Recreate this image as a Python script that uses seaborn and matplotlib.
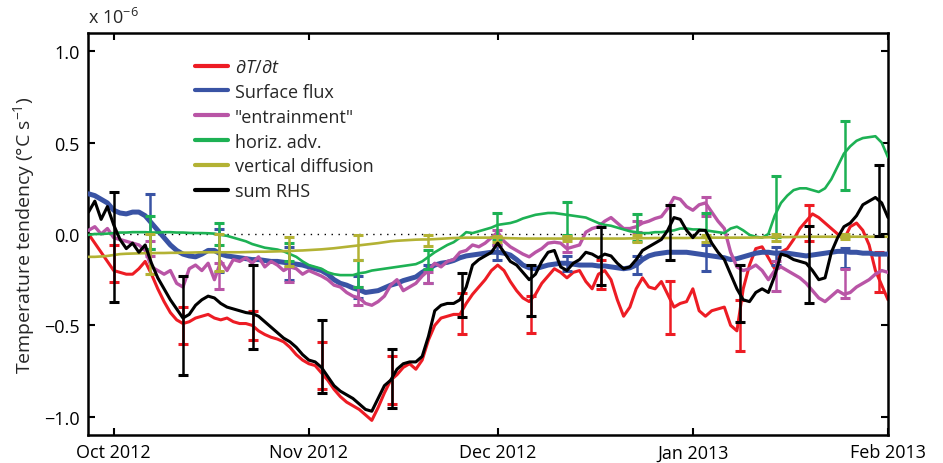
import pandas as pd
import matplotlib
matplotlib.use("Agg")
import matplotlib.pyplot as plt
import matplotlib.dates as mdates
from matplotlib.lines import Line2D
import seaborn as sns

# ---- daily series, 27 Sep 2012 .. 1 Feb 2013 (units of 1e-6 degC/s) ----
days = pd.date_range("2012-09-27", periods=128, freq="D")

dTdt = [0.0, -0.05, -0.1, -0.15,
        -0.2, -0.21, -0.22, -0.22, -0.19, -0.15, -0.22, -0.3, -0.37, -0.43,
        -0.47, -0.49, -0.48, -0.46, -0.45, -0.44, -0.46, -0.47, -0.46, -0.48,
        -0.49, -0.49, -0.5, -0.53, -0.55, -0.565, -0.575, -0.59, -0.62, -0.66,
        -0.69, -0.71, -0.72, -0.76, -0.8, -0.85, -0.89, -0.92, -0.94, -0.96,
        -0.99, -1.02, -0.95, -0.87, -0.8, -0.77, -0.73, -0.71, -0.74, -0.69,
        -0.58, -0.5, -0.46, -0.45, -0.44, -0.44, -0.38, -0.33, -0.29, -0.25,
        -0.2, -0.17, -0.2, -0.26, -0.31, -0.35, -0.37, -0.33, -0.27, -0.23,
        -0.19, -0.21, -0.24, -0.21, -0.2, -0.26, -0.3, -0.22, -0.2, -0.25,
        -0.36, -0.45, -0.4, -0.3, -0.24, -0.29, -0.3, -0.26, -0.33, -0.4,
        -0.38, -0.37, -0.3, -0.42, -0.45, -0.42, -0.41, -0.4, -0.5, -0.53,
        -0.3, -0.17, -0.08, -0.07, -0.13, -0.19, -0.1, -0.08, -0.03, 0.03,
        0.07, 0.11, 0.09, 0.06, 0.03, 0.0, -0.03, 0.04, 0.06, 0.02,
        -0.06, -0.2, -0.28, -0.36]

surface_flux = [0.22, 0.21, 0.19, 0.17,
                0.13, 0.115, 0.11, 0.12, 0.12, 0.1, 0.06, 0.02, -0.02, -0.06,
                -0.09, -0.11, -0.12, -0.125, -0.11, -0.09, -0.09, -0.11, -0.12, -0.125,
                -0.13, -0.135, -0.14, -0.14, -0.145, -0.15, -0.15, -0.155, -0.16, -0.165,
                -0.17, -0.18, -0.19, -0.2, -0.22, -0.25, -0.27, -0.28, -0.295, -0.305,
                -0.32, -0.315, -0.31, -0.295, -0.28, -0.27, -0.255, -0.245, -0.235, -0.21,
                -0.19, -0.17, -0.16, -0.155, -0.145, -0.13, -0.12, -0.115, -0.11, -0.105,
                -0.1, -0.1, -0.105, -0.115, -0.14, -0.17, -0.185, -0.19, -0.18, -0.17,
                -0.165, -0.16, -0.16, -0.165, -0.17, -0.17, -0.17, -0.175, -0.175, -0.18,
                -0.185, -0.19, -0.185, -0.17, -0.14, -0.12, -0.11, -0.105, -0.1, -0.1,
                -0.1, -0.1, -0.105, -0.11, -0.115, -0.12, -0.125, -0.13, -0.14, -0.135,
                -0.125, -0.115, -0.105, -0.1, -0.1, -0.105, -0.105, -0.105, -0.11, -0.115,
                -0.12, -0.115, -0.11, -0.105, -0.1, -0.095, -0.095, -0.1, -0.1, -0.105,
                -0.105, -0.11, -0.11, -0.11]

entrainment = [0.02, 0.04, 0.0, 0.03,
               -0.02, -0.03, -0.04, -0.05, -0.06, -0.09, -0.18, -0.2, -0.22, -0.2,
               -0.27, -0.29, -0.19, -0.17, -0.2, -0.16, -0.25, -0.15, -0.2, -0.14,
               -0.15, -0.13, -0.16, -0.125, -0.18, -0.15, -0.17, -0.2, -0.18, -0.19,
               -0.22, -0.2, -0.215, -0.23, -0.25, -0.28, -0.29, -0.32, -0.34, -0.35,
               -0.38, -0.39, -0.37, -0.34, -0.28, -0.25, -0.31, -0.29, -0.27, -0.23,
               -0.2, -0.16, -0.18, -0.15, -0.14, -0.1, -0.09, -0.06, -0.07, -0.05,
               -0.02, 0.01, -0.04, -0.07, -0.09, -0.11, -0.125, -0.1, -0.08, -0.05,
               -0.045, -0.05, -0.08, -0.07, -0.06, 0.01, 0.03, 0.04, 0.07, 0.09,
               0.06, 0.03, 0.03, 0.04, 0.06, 0.07, 0.085, 0.095, 0.14, 0.2,
               0.19, 0.15, 0.13, 0.16, 0.17, 0.12, 0.07, 0.03, -0.1, -0.18,
               -0.2, -0.19, -0.17, -0.2, -0.25, -0.2, -0.18, -0.2, -0.22, -0.24,
               -0.27, -0.31, -0.35, -0.37, -0.34, -0.31, -0.33, -0.32, -0.29, -0.27,
               -0.25, -0.22, -0.2, -0.21]

horiz_adv = [-0.005, 0.0, 0.0, 0.002,
             0.005, 0.008, 0.008, 0.01, 0.01, 0.01, 0.008, 0.008, 0.01, 0.01,
             0.008, 0.008, 0.006, 0.005, 0.005, 0.004, 0.002, -0.005, -0.01, -0.02,
             -0.03, -0.04, -0.055, -0.065, -0.075, -0.08, -0.085, -0.095, -0.11, -0.125,
             -0.15, -0.17, -0.18, -0.19, -0.21, -0.22, -0.225, -0.225, -0.225, -0.215,
             -0.21, -0.2, -0.195, -0.19, -0.185, -0.18, -0.175, -0.17, -0.165, -0.15,
             -0.125, -0.1, -0.08, -0.06, -0.045, -0.02, 0.01, 0.005, 0.015, 0.025,
             0.035, 0.05, 0.055, 0.06, 0.07, 0.085, 0.095, 0.105, 0.11, 0.115,
             0.115, 0.11, 0.105, 0.1, 0.095, 0.09, 0.075, 0.06, 0.05, 0.045,
             0.035, 0.025, 0.015, 0.01, 0.005, 0.005, 0.01, 0.01, 0.015, 0.02,
             0.03, 0.03, 0.025, 0.025, 0.02, 0.015, 0.01, 0.005, 0.03, 0.04,
             0.02, -0.005, -0.015, -0.02, 0.0, 0.1, 0.17, 0.21, 0.24, 0.25,
             0.25, 0.24, 0.23, 0.25, 0.3, 0.37, 0.44, 0.48, 0.51, 0.525,
             0.53, 0.535, 0.5, 0.42]

vert_diff = [-0.125, -0.125, -0.123, -0.12,
             -0.115, -0.11, -0.108, -0.107, -0.106, -0.105, -0.105, -0.104, -0.104, -0.103,
             -0.103, -0.102, -0.102, -0.101, -0.1, -0.1, -0.1, -0.1, -0.1, -0.1,
             -0.1, -0.099, -0.098, -0.097, -0.097, -0.096, -0.095, -0.094, -0.093, -0.091,
             -0.09, -0.088, -0.086, -0.084, -0.081, -0.078, -0.074, -0.07, -0.066, -0.062,
             -0.058, -0.054, -0.05, -0.045, -0.04, -0.037, -0.035, -0.033, -0.031, -0.03,
             -0.03, -0.028, -0.026, -0.024, -0.022, -0.021, -0.02, -0.02, -0.02, -0.02,
             -0.02, -0.021, -0.022, -0.023, -0.024, -0.025, -0.025, -0.025, -0.025, -0.025,
             -0.025, -0.025, -0.025, -0.025, -0.025, -0.025, -0.025, -0.025, -0.025, -0.025,
             -0.025, -0.025, -0.024, -0.024, -0.023, -0.023, -0.022, -0.022, -0.022, -0.022,
             -0.022, -0.022, -0.021, -0.021, -0.021, -0.02, -0.02, -0.02, -0.02, -0.02,
             -0.02, -0.02, -0.019, -0.019, -0.018, -0.018, -0.017, -0.017, -0.016, -0.016,
             -0.015, -0.015, -0.015, -0.015, -0.015, -0.015, -0.015, -0.015, -0.015, -0.015,
             -0.015, -0.015, -0.015, -0.015]

sum_rhs = [0.12, 0.18, 0.08, 0.15,
           0.05, -0.03, -0.08, -0.05, -0.1, -0.06, -0.16, -0.24, -0.3, -0.36,
           -0.41, -0.46, -0.44, -0.39, -0.36, -0.34, -0.35, -0.38, -0.4, -0.41,
           -0.42, -0.43, -0.435, -0.45, -0.48, -0.51, -0.54, -0.57, -0.59, -0.62,
           -0.66, -0.69, -0.7, -0.73, -0.78, -0.83, -0.86, -0.88, -0.9, -0.93,
           -0.96, -0.97, -0.9, -0.83, -0.8, -0.74, -0.71, -0.7, -0.7, -0.67,
           -0.56, -0.42, -0.39, -0.38, -0.38, -0.36, -0.29, -0.17, -0.14, -0.12,
           -0.1, -0.05, -0.1, -0.15, -0.17, -0.21, -0.25, -0.22, -0.15, -0.1,
           -0.09, -0.18, -0.2, -0.16, -0.14, -0.1, -0.11, -0.13, -0.11, -0.12,
           -0.16, -0.19, -0.18, -0.14, -0.09, -0.07, -0.05, -0.03, 0.02, 0.09,
           0.08, 0.02, -0.02, 0.02, 0.02, -0.05, -0.1, -0.14, -0.22, -0.3,
           -0.36, -0.37, -0.32, -0.3, -0.32, -0.23, -0.11, -0.12, -0.14, -0.15,
           -0.16, -0.2, -0.25, -0.24, -0.1, -0.02, 0.04, 0.06, 0.1, 0.16,
           0.18, 0.2, 0.17, 0.09]

# ---- uncertainty estimates: days after 1 Oct 2012, centre, half-width ----
err_days_a = [0.0, 11.05, 22.1, 33.15, 44.2, 55.25, 66.3, 77.35, 88.4, 99.45, 110.5, 121.55]
err_days_b = [5.7, 16.75, 27.8, 38.85, 49.9, 60.95, 72.0, 83.05, 94.1, 105.15, 116.2]

dTdt_mid = [-0.16, -0.5, -0.5, -0.72, -0.8, -0.435, -0.44, -0.22, -0.4, -0.5, 0.06, -0.21]
dTdt_err = [0.1, 0.1, 0.08, 0.13, 0.13, 0.11, 0.1, 0.08, 0.145, 0.14, 0.1, 0.11]
sum_mid = [-0.07, -0.5, -0.40, -0.67, -0.79, -0.335, -0.31, -0.12, 0.01, -0.325, -0.165, 0.185]
sum_err = [0.3, 0.27, 0.23, 0.2, 0.16, 0.12, 0.14, 0.16, 0.15, 0.155, 0.21, 0.195]
flux_mid = [0.07, -0.09, -0.16, -0.29, -0.22, -0.1, -0.16, -0.17, -0.13, -0.12, -0.13]
flux_err = [0.15, 0.12, 0.09, 0.06, 0.05, 0.04, 0.04, 0.05, 0.07, 0.05, 0.055]
entr_mid = [-0.08, -0.23, -0.22, -0.34, -0.24, -0.02, -0.06, 0.04, 0.15, -0.23, -0.27]
entr_err = [0.04, 0.07, 0.04, 0.05, 0.03, 0.04, 0.04, 0.03, 0.05, 0.08, 0.08]
adv_mid = [0.01, 0.0, -0.1, -0.215, -0.14, 0.045, 0.085, 0.035, 0.05, 0.15, 0.43]
adv_err = [0.09, 0.06, 0.05, 0.075, 0.05, 0.07, 0.09, 0.075, 0.065, 0.165, 0.19]
vdiff_mid = [-0.11, -0.1, -0.095, -0.075, -0.035, -0.027, -0.025, -0.025, -0.025, -0.02, -0.015]
vdiff_err = [0.11, 0.1, 0.08, 0.07, 0.03, 0.017, 0.015, 0.02, 0.02, 0.02, 0.015]

labels = [r"$\partial T/\partial t$", "Surface flux", "\"entrainment\"",
          "horiz. adv.", "vertical diffusion", "sum RHS"]

# ---- style ----
sns.set_theme(style="ticks")
plt.rcParams["font.family"] = ["Open Sans", "DejaVu Sans"]
plt.rcParams["mathtext.fontset"] = "custom"
plt.rcParams["mathtext.rm"] = "Open Sans"
plt.rcParams["mathtext.it"] = "Open Sans:italic"
plt.rcParams["axes.unicode_minus"] = True

fig = plt.figure(figsize=(9.43, 4.64), dpi=100)
ax = fig.add_axes([88 / 943, 28 / 464, 800 / 943, 402 / 464])

oct1 = pd.Timestamp("2012-10-01")
tA = oct1 + pd.to_timedelta(err_days_a, unit="D")
tB = oct1 + pd.to_timedelta(err_days_b, unit="D")

ax.axhline(0, color="black", lw=1.0, ls=(0, (1, 4)), zorder=1)

specs = [
    (dTdt, "#ed1c24", 2.2, tA, dTdt_mid, dTdt_err),
    (surface_flux, "#3953a4", 3.6, tB, flux_mid, flux_err),
    (entrainment, "#b955a6", 2.4, tB, entr_mid, entr_err),
    (horiz_adv, "#1db154", 1.9, tB, adv_mid, adv_err),
    (vert_diff, "#b3b234", 1.9, tB, vdiff_mid, vdiff_err),
    (sum_rhs, "#000000", 2.2, tA, sum_mid, sum_err),
]

handles = []
for z, (vals, col, lw, tt, mid, err) in enumerate(specs):
    sns.lineplot(x=days, y=vals, ax=ax, color=col, linewidth=lw,
                 legend=False, zorder=2 + z)
    ax.errorbar(tt, mid, yerr=err, fmt="none", ecolor=col, elinewidth=1.8,
                capsize=3.8, capthick=2.2, zorder=2 + z)
    handles.append(Line2D([], [], color=col, linewidth=3.0))

ax.set_xlim(pd.Timestamp("2012-09-26 22:00"), pd.Timestamp("2013-02-01"))
ax.set_ylim(-1.1, 1.1)
ax.set_yticks([-1.0, -0.5, 0.0, 0.5, 1.0])
ax.xaxis.set_major_locator(mdates.MonthLocator())
ax.xaxis.set_major_formatter(mdates.DateFormatter("%b %Y"))
ax.set_xlabel("")
ax.set_ylabel("Temperature tendency (°C s$^{-1}$)", fontsize=14, labelpad=5)

for s in ax.spines.values():
    s.set_visible(True)
    s.set_linewidth(1.8)
    s.set_color("black")
ax.tick_params(direction="in", length=5, width=1.5, labelsize=13,
               top=True, right=True, colors="black", pad=6)

ax.legend(handles, labels, loc="upper left", bbox_to_anchor=(0.134, 0.938),
          frameon=False, fontsize=13, handlelength=1.8, handletextpad=0.4,
          labelspacing=0.38, borderpad=0, borderaxespad=0)

fig.text(88 / 943, 1 - 18 / 464, "x 10$^{-6}$", fontsize=13, va="center", ha="left")

fig.savefig("out.png", dpi=100)
